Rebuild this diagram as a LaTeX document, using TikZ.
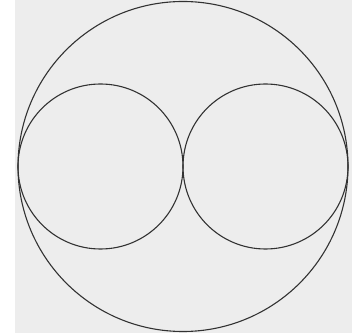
\documentclass[tikz,border=0pt]{standalone}
\usepackage{xcolor}
\definecolor{page-gray}{RGB}{237,237,237}
\definecolor{ink}{RGB}{50,50,50}
\begin{document}
\begin{tikzpicture}[x=1pt, y=-1pt,
  ring/.style={draw=ink, line width=1.1pt, circle, inner sep=0pt},
]
  % Page area
  \useasboundingbox (0,0) rectangle (361,336);
  \fill[page-gray] (15,0) rectangle (352,333);

  % Outer circle
  \node[ring, minimum size=330pt] (outer) at (183,166.5) {};

  % Inner circles, touching each other and the outer one
  \node[ring, minimum size=165pt] (left) at (100.5,166.5) {};
  \node[ring, minimum size=165pt] (right) at (265.5,166.5) {};
\end{tikzpicture}
\end{document}
